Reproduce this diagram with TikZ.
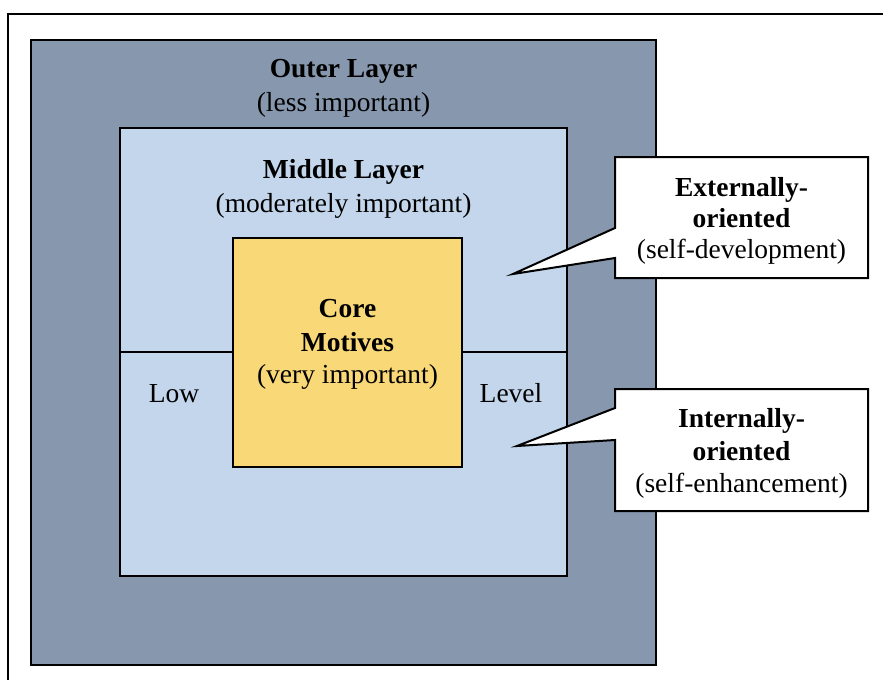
\documentclass[tikz,border=0pt]{standalone}
\usepackage{fontspec}
\setmainfont{LiberationSerif}[Extension=.ttf,UprightFont=*-Regular,BoldFont=*-Bold,ItalicFont=*-Italic,BoldItalicFont=*-BoldItalic]
\definecolor{outerc}{HTML}{8797AE}
\definecolor{middlec}{HTML}{C3D6EC}
\definecolor{corec}{HTML}{F9D878}
\begin{document}
\begin{tikzpicture}[x=1pt,y=-1pt,
  layer/.style={draw=black,line width=2pt,inner sep=0pt},
  txt/.style={font=\fontsize{27.5}{33}\selectfont,inner sep=0pt,anchor=base},
  btxt/.style={font=\fontsize{27.5}{33}\selectfont\bfseries,inner sep=0pt,anchor=base},
  callout/.style={draw=black,fill=white,line width=2pt,line join=miter}]
\useasboundingbox (0,0) rectangle (883,680);
% page frame
\draw[line width=2pt] (8,680) -- (8,14) -- (883,14);
% layers
\node[layer,fill=outerc,minimum width=625pt,minimum height=625pt] (outer) at (343.5,352.5) {};
\node[layer,fill=middlec,minimum width=447pt,minimum height=448pt] (middle) at (343.5,352) {};
\node[layer,fill=corec,minimum width=229pt,minimum height=229pt] (core) at (347.5,352.5) {};
\draw[line width=1.6pt] (middle.west) -- (core.west |- middle.west);
\draw[line width=1.6pt] (core.east |- middle.east) -- (middle.east);
% texts
\node[btxt] (t1) at (343.5,77) {Outer Layer};
\node[txt] (t2) at (343.5,111) {(less important)};
\node[btxt] (t3) at (343.5,178) {Middle Layer};
\node[txt] (t4) at (343.5,212) {(moderately important)};
\node[btxt] (t5) at (347.5,317) {Core};
\node[btxt] (t6) at (347.5,351) {Motives};
\node[txt] (t7) at (347.5,383) {(very important)};
\node[txt] (low) at (174,402) {Low};
\node[txt] (lev) at (511,402) {Level};
% callouts
\coordinate (tipA) at (513,274);
\coordinate (tipB) at (517,446);
\draw[callout] (615,157) -- (868,157) -- (868,278) -- (615,278) -- (615,258) -- (tipA) -- (615,228) -- cycle;
\draw[callout] (615,389) -- (868,389) -- (868,511) -- (615,511) -- (615,440) -- (tipB) -- (615,408) -- cycle;
\node[btxt] (c1) at (741.5,196) {Externally-};
\node[btxt] (c2) at (741.5,227) {oriented};
\node[txt] (c3) at (741.5,258) {(self-development)};
\node[btxt] (c4) at (741.5,427) {Internally-};
\node[btxt] (c5) at (741.5,460) {oriented};
\node[txt] (c6) at (741.5,492) {(self-enhancement)};
\end{tikzpicture}
\end{document}
